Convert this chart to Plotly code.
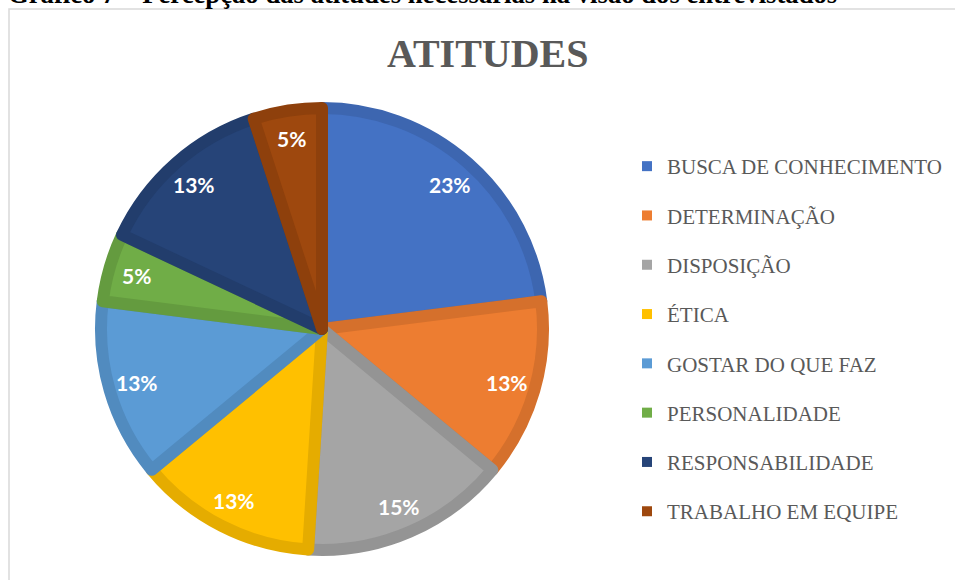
import math
import plotly.graph_objects as go

categories = ["BUSCA DE CONHECIMENTO", "DETERMINAÇÃO", "DISPOSIÇÃO", "ÉTICA",
              "GOSTAR DO QUE FAZ", "PERSONALIDADE", "RESPONSABILIDADE", "TRABALHO EM EQUIPE"]
percentages = [23, 13, 15, 13, 13, 5, 13, 5]
colors = ["#4472C4", "#ED7D31", "#A5A5A5", "#FFC000", "#5B9BD5", "#70AD47", "#264478", "#9E480E"]
title_text = "ATITUDES"
caption_text = "Gráfico 7 – Percepção das atitudes necessárias na visão dos entrevistados"

W, H = 955, 580


def darker(hexcol, f=0.9):
    r, g, b = int(hexcol[1:3], 16), int(hexcol[3:5], 16), int(hexcol[5:7], 16)
    return "#%02x%02x%02x" % (int(r * f), int(g * f), int(b * f))


border_colors = [darker(c) for c in colors]

# pie geometry (pixels)
cx, cy = 322, 329
r_draw = 221
line_w = 12
label_r = 193

fig = go.Figure()
fig.add_trace(go.Pie(
    labels=categories, values=percentages, sort=False, direction="clockwise",
    rotation=0, textinfo="none", showlegend=False, hoverinfo="label+percent",
    marker=dict(colors=colors, line=dict(color=border_colors, width=line_w)),
    domain=dict(x=[(cx - r_draw) / W, (cx + r_draw) / W],
                y=[1 - (cy + r_draw) / H, 1 - (cy - r_draw) / H]),
))

# legend entries
for cat, col in zip(categories, colors):
    fig.add_trace(go.Scatter(
        x=[None], y=[None], mode="markers", name=cat, legendgroup=cat,
        marker=dict(symbol="square", size=10, color=col), showlegend=True,
    ))

# percentage labels placed at the slice mid-angles
total = sum(percentages)
cum = 0
annotations = []
for v in percentages:
    mid = (cum + v / 2) / total * 2 * math.pi
    cum += v
    px = cx + label_r * math.sin(mid)
    py = cy - label_r * math.cos(mid)
    annotations.append(dict(
        x=px / W, y=1 - py / H, xref="paper", yref="paper", showarrow=False,
        xanchor="center", yanchor="middle",
        text=f"{round(v / total * 100)}%",
        font=dict(family="Lato", size=21, color="white", weight="bold"),
    ))

annotations.append(dict(
    x=488 / W, y=1 - 53 / H, xref="paper", yref="paper", showarrow=False,
    xanchor="center", yanchor="middle",
    text=f"<b>{title_text}</b>",
    font=dict(family="Liberation Serif", size=40, color="#595959"),
))
annotations.append(dict(
    x=6 / W, y=1 - 11 / H, xref="paper", yref="paper", showarrow=False,
    xanchor="left", yanchor="bottom", text=f"<b>{caption_text}</b>",
    font=dict(family="Liberation Serif", size=26.7, color="black"),
))

fig.update_layout(
    width=W, height=H, margin=dict(l=0, r=0, t=0, b=0),
    paper_bgcolor="white", plot_bgcolor="white",
    xaxis=dict(visible=False), yaxis=dict(visible=False),
    annotations=annotations,
    shapes=[dict(type="rect", xref="paper", yref="paper",
                 x0=9 / W, x1=1.02, y0=-0.02, y1=1 - 9 / H,
                 line=dict(color="#d9d9d9", width=1.5))],
    legend=dict(x=627 / W, y=1 - 146 / H, xanchor="left", yanchor="top",
                font=dict(family="Liberation Serif", size=21, color="#595959"),
                tracegroupgap=19, bgcolor="rgba(0,0,0,0)"),
)

fig.write_html("out.html", config={"displayModeBar": False},
               post_script="document.body.style.margin='0';")
